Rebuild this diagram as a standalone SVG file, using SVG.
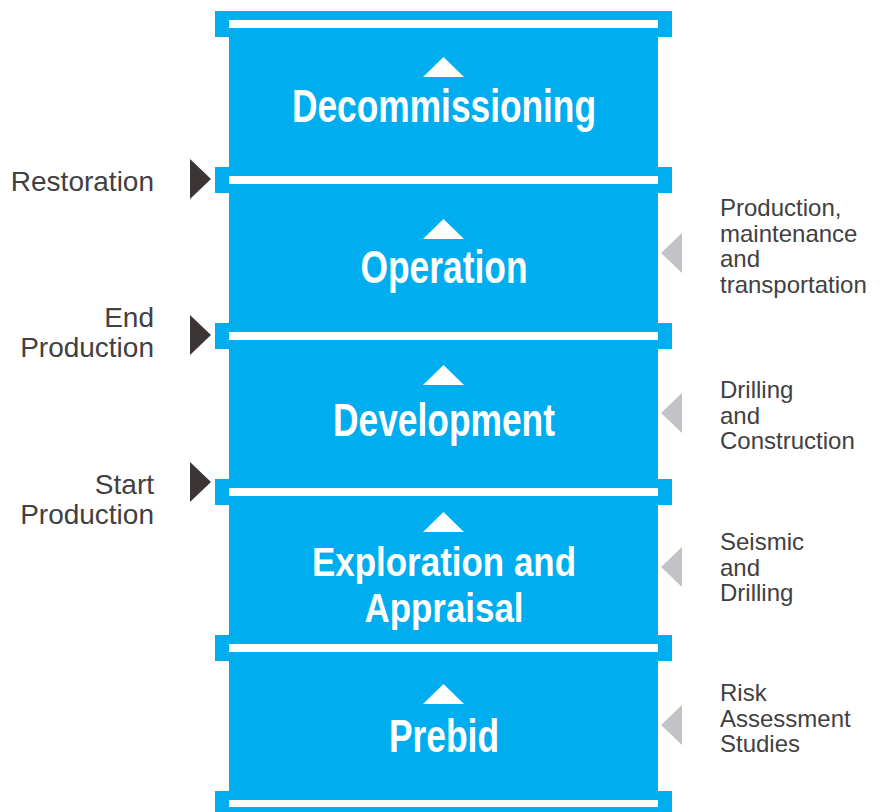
<svg xmlns="http://www.w3.org/2000/svg" width="886" height="812" viewBox="0 0 886 812">
<style>
.blue{fill:#00AEEF}
.white{fill:#FFFFFF}
.title{font-family:"Liberation Sans",Arial,sans-serif;font-weight:bold;font-size:46px;fill:#FFFFFF;text-anchor:middle}
.title2{font-family:"Liberation Sans",Arial,sans-serif;font-weight:bold;font-size:40px;fill:#FFFFFF;text-anchor:middle}
.lab{font-family:"Liberation Sans",Arial,sans-serif;font-size:28px;fill:#414042;text-anchor:end}
.rlab{font-family:"Liberation Sans",Arial,sans-serif;font-size:24px;fill:#414042}
.dark{fill:#3B3536}
.gray{fill:#C1C3C6}
</style>
<rect width="886" height="812" fill="#FFFFFF"/>

<g id="stage-decommissioning">
<rect class="blue" x="229" y="37" width="429" height="130"/>
<polygon class="white" points="443.5,57 464,77 423,77"/>
<text class="title" x="444" y="122" textLength="304" lengthAdjust="spacingAndGlyphs">Decommissioning</text>
</g>
<g id="stage-operation">
<rect class="blue" x="229" y="193" width="429" height="130"/>
<polygon class="white" points="443.5,219 464,239 423,239"/>
<text class="title" x="444" y="283" textLength="167" lengthAdjust="spacingAndGlyphs">Operation</text>
</g>
<g id="stage-development">
<rect class="blue" x="229" y="349" width="429" height="130"/>
<polygon class="white" points="443.5,365 464,385 423,385"/>
<text class="title" x="444" y="436" textLength="222" lengthAdjust="spacingAndGlyphs">Development</text>
</g>
<g id="stage-exploration">
<rect class="blue" x="229" y="505" width="429" height="130"/>
<polygon class="white" points="443.5,512 464,532 423,532"/>
<text class="title2" x="444" y="576" textLength="264" lengthAdjust="spacingAndGlyphs">Exploration and</text>
<text class="title2" x="444" y="622" textLength="159" lengthAdjust="spacingAndGlyphs">Appraisal</text>
</g>
<g id="stage-prebid">
<rect class="blue" x="229" y="661" width="429" height="130"/>
<polygon class="white" points="443.5,684 464,704 423,704"/>
<text class="title" x="444" y="752" textLength="110" lengthAdjust="spacingAndGlyphs">Prebid</text>
</g>

<g id="dividers">
<rect class="blue" x="215" y="11" width="457" height="26"/>
<rect class="white" x="229" y="20" width="429" height="8"/>
<rect class="blue" x="215" y="167" width="457" height="26"/>
<rect class="white" x="229" y="176" width="429" height="8"/>
<rect class="blue" x="215" y="323" width="457" height="26"/>
<rect class="white" x="229" y="332" width="429" height="8"/>
<rect class="blue" x="215" y="479" width="457" height="26"/>
<rect class="white" x="229" y="488" width="429" height="8"/>
<rect class="blue" x="215" y="635" width="457" height="26"/>
<rect class="white" x="229" y="644" width="429" height="8"/>
<rect class="blue" x="215" y="791" width="457" height="26"/>
<rect class="white" x="229" y="800" width="429" height="7"/>
</g>

<g id="connectors">
<polygon class="dark" points="190,159 211,179 190,199"/>
<polygon class="dark" points="190,315 211,335 190,355"/>
<polygon class="dark" points="190,462 211,482 190,502"/>
<polygon class="gray" points="682,233 661,253 682,273"/>
<polygon class="gray" points="682,393 661,413 682,433"/>
<polygon class="gray" points="682,547 661,567 682,587"/>
<polygon class="gray" points="682,705 661,725 682,745"/>
</g>

<g id="label-restoration">
<text class="lab" x="154" y="191">Restoration</text>
</g>
<g id="label-end-production">
<text class="lab" x="154" y="327">End</text>
<text class="lab" x="154" y="357">Production</text>
</g>
<g id="label-start-production">
<text class="lab" x="154" y="494">Start</text>
<text class="lab" x="154" y="524">Production</text>
</g>

<g id="label-production">
<text class="rlab" x="720" y="216">Production,</text>
<text class="rlab" x="720" y="241.5">maintenance</text>
<text class="rlab" x="720" y="267">and</text>
<text class="rlab" x="720" y="292.5">transportation</text>
</g>
<g id="label-drilling">
<text class="rlab" x="720" y="398">Drilling</text>
<text class="rlab" x="720" y="423.5">and</text>
<text class="rlab" x="720" y="449">Construction</text>
</g>
<g id="label-seismic">
<text class="rlab" x="720" y="550">Seismic</text>
<text class="rlab" x="720" y="575.5">and</text>
<text class="rlab" x="720" y="601">Drilling</text>
</g>
<g id="label-risk">
<text class="rlab" x="720" y="701">Risk</text>
<text class="rlab" x="720" y="726.5">Assessment</text>
<text class="rlab" x="720" y="752">Studies</text>
</g>
</svg>
